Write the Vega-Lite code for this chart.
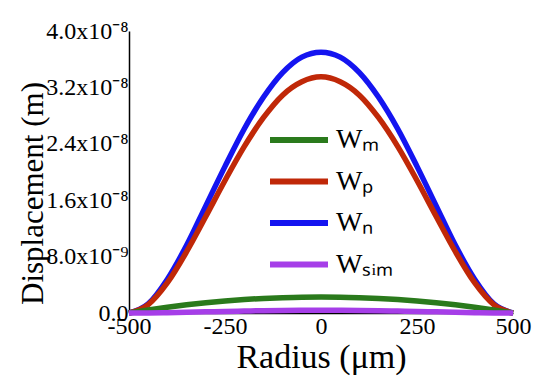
{
  "$schema": "https://vega.github.io/schema/vega-lite/v6.json",
  "width": 384,
  "height": 282,
  "autosize": {"type": "none"},
  "padding": {"left": 129, "top": 31, "right": 37, "bottom": 76},
  "background": "white",
  "config": {
    "view": {"stroke": null},
    "font": "Liberation Serif"
  },
  "data": {
    "values": [
      {"r": -500, "s": "Wₙ", "w": 0},
      {"r": -450, "s": "Wₙ", "w": 1.3e-9},
      {"r": -400, "s": "Wₙ", "w": 4.8e-9},
      {"r": -350, "s": "Wₙ", "w": 9.6e-9},
      {"r": -300, "s": "Wₙ", "w": 1.52e-8},
      {"r": -250, "s": "Wₙ", "w": 2.08e-8},
      {"r": -200, "s": "Wₙ", "w": 2.61e-8},
      {"r": -150, "s": "Wₙ", "w": 3.06e-8},
      {"r": -100, "s": "Wₙ", "w": 3.41e-8},
      {"r": -50, "s": "Wₙ", "w": 3.63e-8},
      {"r": 0, "s": "Wₙ", "w": 3.7e-8},
      {"r": 50, "s": "Wₙ", "w": 3.63e-8},
      {"r": 100, "s": "Wₙ", "w": 3.41e-8},
      {"r": 150, "s": "Wₙ", "w": 3.06e-8},
      {"r": 200, "s": "Wₙ", "w": 2.61e-8},
      {"r": 250, "s": "Wₙ", "w": 2.08e-8},
      {"r": 300, "s": "Wₙ", "w": 1.52e-8},
      {"r": 350, "s": "Wₙ", "w": 9.6e-9},
      {"r": 400, "s": "Wₙ", "w": 4.8e-9},
      {"r": 450, "s": "Wₙ", "w": 1.3e-9},
      {"r": 500, "s": "Wₙ", "w": 0},

      {"r": -500, "s": "Wₚ", "w": 0},
      {"r": -450, "s": "Wₚ", "w": 1.2e-9},
      {"r": -400, "s": "Wₚ", "w": 4.3e-9},
      {"r": -350, "s": "Wₚ", "w": 8.7e-9},
      {"r": -300, "s": "Wₚ", "w": 1.37e-8},
      {"r": -250, "s": "Wₚ", "w": 1.88e-8},
      {"r": -200, "s": "Wₚ", "w": 2.36e-8},
      {"r": -150, "s": "Wₚ", "w": 2.77e-8},
      {"r": -100, "s": "Wₚ", "w": 3.09e-8},
      {"r": -50, "s": "Wₚ", "w": 3.28e-8},
      {"r": 0, "s": "Wₚ", "w": 3.35e-8},
      {"r": 50, "s": "Wₚ", "w": 3.28e-8},
      {"r": 100, "s": "Wₚ", "w": 3.09e-8},
      {"r": 150, "s": "Wₚ", "w": 2.77e-8},
      {"r": 200, "s": "Wₚ", "w": 2.36e-8},
      {"r": 250, "s": "Wₚ", "w": 1.88e-8},
      {"r": 300, "s": "Wₚ", "w": 1.37e-8},
      {"r": 350, "s": "Wₚ", "w": 8.7e-9},
      {"r": 400, "s": "Wₚ", "w": 4.3e-9},
      {"r": 450, "s": "Wₚ", "w": 1.2e-9},
      {"r": 500, "s": "Wₚ", "w": 0},

      {"r": -500, "s": "Wₘ", "w": 0},
      {"r": -450, "s": "Wₘ", "w": 4.3e-10},
      {"r": -400, "s": "Wₘ", "w": 8.2e-10},
      {"r": -350, "s": "Wₘ", "w": 1.16e-9},
      {"r": -300, "s": "Wₘ", "w": 1.45e-9},
      {"r": -250, "s": "Wₘ", "w": 1.7e-9},
      {"r": -200, "s": "Wₘ", "w": 1.91e-9},
      {"r": -150, "s": "Wₘ", "w": 2.07e-9},
      {"r": -100, "s": "Wₘ", "w": 2.18e-9},
      {"r": -50, "s": "Wₘ", "w": 2.25e-9},
      {"r": 0, "s": "Wₘ", "w": 2.27e-9},
      {"r": 50, "s": "Wₘ", "w": 2.25e-9},
      {"r": 100, "s": "Wₘ", "w": 2.18e-9},
      {"r": 150, "s": "Wₘ", "w": 2.07e-9},
      {"r": 200, "s": "Wₘ", "w": 1.91e-9},
      {"r": 250, "s": "Wₘ", "w": 1.7e-9},
      {"r": 300, "s": "Wₘ", "w": 1.45e-9},
      {"r": 350, "s": "Wₘ", "w": 1.16e-9},
      {"r": 400, "s": "Wₘ", "w": 8.2e-10},
      {"r": 450, "s": "Wₘ", "w": 4.3e-10},
      {"r": 500, "s": "Wₘ", "w": 0},

      {"r": -500, "s": "Wₛᵢₘ", "w": 0},
      {"r": -450, "s": "Wₛᵢₘ", "w": 1e-11},
      {"r": -400, "s": "Wₛᵢₘ", "w": 5e-11},
      {"r": -350, "s": "Wₛᵢₘ", "w": 1e-10},
      {"r": -300, "s": "Wₛᵢₘ", "w": 1.6e-10},
      {"r": -250, "s": "Wₛᵢₘ", "w": 2.3e-10},
      {"r": -200, "s": "Wₛᵢₘ", "w": 2.8e-10},
      {"r": -150, "s": "Wₛᵢₘ", "w": 3.3e-10},
      {"r": -100, "s": "Wₛᵢₘ", "w": 3.7e-10},
      {"r": -50, "s": "Wₛᵢₘ", "w": 3.9e-10},
      {"r": 0, "s": "Wₛᵢₘ", "w": 4e-10},
      {"r": 50, "s": "Wₛᵢₘ", "w": 3.9e-10},
      {"r": 100, "s": "Wₛᵢₘ", "w": 3.7e-10},
      {"r": 150, "s": "Wₛᵢₘ", "w": 3.3e-10},
      {"r": 200, "s": "Wₛᵢₘ", "w": 2.8e-10},
      {"r": 250, "s": "Wₛᵢₘ", "w": 2.3e-10},
      {"r": 300, "s": "Wₛᵢₘ", "w": 1.6e-10},
      {"r": 350, "s": "Wₛᵢₘ", "w": 1e-10},
      {"r": 400, "s": "Wₛᵢₘ", "w": 5e-11},
      {"r": 450, "s": "Wₛᵢₘ", "w": 1e-11},
      {"r": 500, "s": "Wₛᵢₘ", "w": 0}
    ]
  },
  "mark": {"type": "line", "strokeWidth": 5.5, "interpolate": "monotone", "clip": false},
  "encoding": {
    "x": {
      "field": "r",
      "type": "quantitative",
      "scale": {"domain": [-500, 500], "nice": false},
      "axis": {
        "title": "Radius (μm)",
        "values": [-500, -250, 0, 250, 500],
        "labelExpr": "datum.value < 0 ? '-' + format(-datum.value, 'd') : format(datum.value, 'd')",
        "ticks": false,
        "grid": false,
        "domainColor": "black",
        "domainWidth": 1.5,
        "labelFont": "Liberation Serif",
        "labelFontSize": 24,
        "labelColor": "black",
        "labelPadding": 1,
        "labelFlush": false,
        "titleFont": "Liberation Serif",
        "titleFontSize": 34,
        "titleFontWeight": "normal",
        "titleColor": "black",
        "titlePadding": 2
      }
    },
    "y": {
      "field": "w",
      "type": "quantitative",
      "scale": {"domain": [0, 4e-8], "nice": false},
      "axis": {
        "title": "Displacement (m)",
        "values": [0, 8e-9, 1.6e-8, 2.4e-8, 3.2e-8, 4e-8],
        "labelExpr": "datum.value == 0 ? '0.0' : (datum.value < 1e-8 ? '8.0x10⁻⁹' : format(datum.value * 1e8, '.1f') + 'x10⁻⁸')",
        "ticks": false,
        "grid": false,
        "domainColor": "black",
        "domainWidth": 1.5,
        "labelFont": "Liberation Serif",
        "labelFontSize": 24,
        "labelColor": "black",
        "labelPadding": 1,
        "labelFlush": false,
        "titleFont": "Liberation Serif",
        "titleFontSize": 31,
        "titleFontWeight": "normal",
        "titleColor": "black",
        "titleX": -96,
        "titleY": 162,
        "titleAngle": -90,
        "titleAlign": "center",
        "titleBaseline": "middle"
      }
    },
    "color": {
      "field": "s",
      "type": "nominal",
      "sort": ["Wₘ", "Wₚ", "Wₙ", "Wₛᵢₘ"],
      "scale": {
        "domain": ["Wₘ", "Wₚ", "Wₙ", "Wₛᵢₘ"],
        "range": ["#2a7a1c", "#c02808", "#1414f0", "#a63ee8"]
      },
      "legend": {
        "title": null,
        "orient": "none",
        "legendX": 138,
        "legendY": 89,
        "symbolType": "stroke",
        "symbolSize": 3364,
        "symbolStrokeWidth": 6,
        "clipHeight": 40,
        "rowPadding": 1.5,
        "labelOffset": 5,
        "labelFont": "Liberation Serif",
        "labelFontSize": 28,
        "labelColor": "black"
      }
    },
    "order": {"field": "s", "sort": "descending"}
  }
}
